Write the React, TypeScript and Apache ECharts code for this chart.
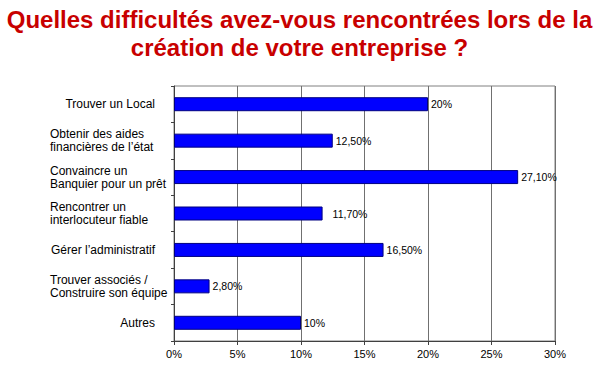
import React, { useEffect, useRef } from "react";
import * as echarts from "echarts";

const titleLines: string[] = [
  "Quelles difficultés avez-vous rencontrées lors de la",
  "création de votre entreprise ?",
];
const categories: string[][] = [
  ["Trouver un Local"],
  ["Obtenir des aides", "financières de l’état"],
  ["Convaincre un", "Banquier pour un prêt"],
  ["Rencontrer un", "interlocuteur fiable"],
  ["Gérer l’administratif"],
  ["Trouver associés /", "Construire son équipe"],
  ["Autres"],
];
const values: number[] = [20, 12.5, 27.1, 11.7, 16.5, 2.8, 10];
const valueLabels: string[] = ["20%", "12,50%", "27,10%", "11,70%", "16,50%", "2,80%", "10%"];
const xTicks: number[] = [0, 5, 10, 15, 20, 25, 30];

const FONT = "'Liberation Sans', Arial, sans-serif";

export default function App() {
  const ref = useRef<HTMLDivElement>(null);
  useEffect(() => {
    if (!ref.current) return;
    const chart = echarts.init(ref.current, null, { renderer: "svg" });
    const catNames = categories.map((c) => c.join("\n"));
    chart.setOption({
      animation: false,
      backgroundColor: "#ffffff",
      title: titleLines.map((t, i) => ({
        text: t,
        left: "center",
        top: 5 + i * 28,
        padding: 0,
        textStyle: {
          fontFamily: FONT,
          fontWeight: "bold",
          fontSize: 24,
          lineHeight: 28,
          color: "#C80000",
        },
      })),
      grid: {
        left: 174,
        right: 44,
        top: 86,
        bottom: 25,
        show: true,
        borderColor: "#808080",
        borderWidth: 1,
        backgroundColor: "transparent",
      },
      xAxis: {
        type: "value",
        min: xTicks[0],
        max: xTicks[xTicks.length - 1],
        interval: 5,
        axisLine: { show: true, lineStyle: { color: "#404040", width: 1 } },
        axisTick: { show: true, length: 4, lineStyle: { color: "#404040" } },
        splitLine: { show: true, lineStyle: { color: "#707070", width: 1 } },
        axisLabel: {
          formatter: (v: number) => `${v}%`,
          fontFamily: FONT,
          fontSize: 11,
          color: "#000",
          margin: 7,
        },
      },
      yAxis: {
        type: "category",
        data: catNames,
        inverse: true,
        axisLine: { show: true, lineStyle: { color: "#404040", width: 1 } },
        axisTick: { show: true, length: 3, lineStyle: { color: "#404040" } },
        splitLine: { show: false },
        axisLabel: {
          margin: 8,
          align: "right",
          width: 116,
          overflow: "none",
          fontFamily: FONT,
          fontSize: 12,
          lineHeight: 13,
          color: "#000",
          formatter: (v: string) => {
            const lines = v.split("\n");
            if (lines.length === 1) return `{r|${lines[0]}}`;
            return lines.map((l) => `{l|${l}}`).join("\n");
          },
          rich: {
            l: { align: "left", fontFamily: FONT, fontSize: 12, lineHeight: 13, color: "#000" },
            r: { align: "right", fontFamily: FONT, fontSize: 12, lineHeight: 13, color: "#000", padding: [0, 11, 0, 0] },
          },
        },
      },
      series: [
        {
          type: "bar",
          data: values.map((v, i) =>
            i === 3 ? { value: v, label: { distance: 10 } } : v
          ),
          barWidth: 14,
          itemStyle: { color: "#0000FF", borderColor: "#000080", borderWidth: 1 },
          label: {
            show: true,
            position: "right",
            distance: 3,
            fontFamily: FONT,
            fontSize: 10.5,
            color: "#000",
            formatter: (p: any) => valueLabels[p.dataIndex],
          },
        },
      ],
    });
    return () => chart.dispose();
  }, []);
  return (
    <div
      ref={ref}
      style={{ position: "fixed", left: 0, top: 0, width: 599, height: 366 }}
    />
  );
}
